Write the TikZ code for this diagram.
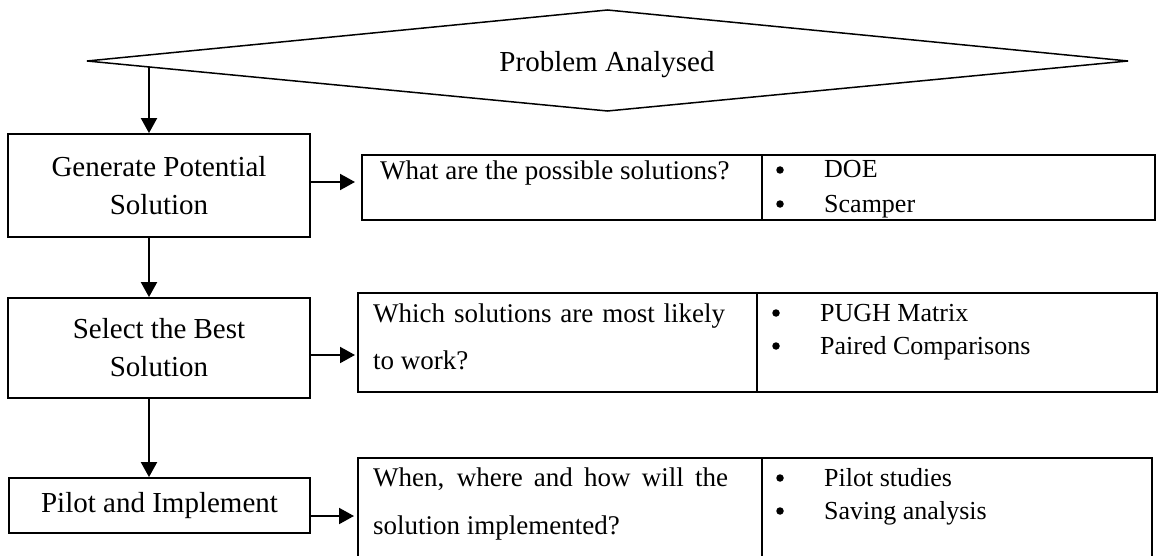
\documentclass[tikz,border=0pt]{standalone}
\usepackage{fontspec}
\setmainfont{Liberation Serif}
\usetikzlibrary{arrows.meta}
\begin{document}
\begin{tikzpicture}[x=1pt,y=-1pt,
  boxnode/.style={draw, line width=1.8pt, inner sep=0pt, align=center, font=\fontsize{29}{38}\selectfont},
  cellnode/.style={draw, line width=2.5pt, inner sep=0pt, outer sep=0pt, anchor=north west},
  qtext/.style={anchor=base west, inner sep=0pt, font=\fontsize{27}{32}\selectfont},
  ltext/.style={anchor=base west, inner sep=0pt, font=\fontsize{26}{32}\selectfont},
  bul/.style={circle, fill=black, inner sep=0pt, minimum size=7.5pt},
  arr/.style={line width=2pt, -{Triangle[length=15pt,width=16pt]}},
]
\useasboundingbox (0,0) rectangle (1161,556);
% decision shape
\draw[line width=1.5pt] (87,61) -- (607.5,10) -- (1128,61) -- (607.5,111) -- cycle;
\node[font=\fontsize{29}{34}\selectfont, inner sep=0pt, anchor=base] (prob) at (607,72) {Problem Analysed};
\coordinate (d1) at (149,67);
% boxes
\node[boxnode, minimum width=302pt, minimum height=103pt] (b1) at (159,185.5) {Generate Potential\\Solution};
\node[boxnode, minimum width=302pt, minimum height=100pt] (b2) at (159,348) {Select the Best\\Solution};
\node[boxnode, minimum width=301pt, minimum height=55pt] (b3) at (159.5,505.5) {Pilot and Implement};
% tables
\node[cellnode, minimum width=400pt, minimum height=65pt] (t1a) at (362,155) {};
\node[cellnode, minimum width=393pt, minimum height=65pt] (t1b) at (t1a.north east) {};
\node[cellnode, minimum width=399pt, minimum height=99pt] (t2a) at (358,293) {};
\node[cellnode, minimum width=400pt, minimum height=99pt] (t2b) at (t2a.north east) {};
\node[cellnode, minimum width=404pt, minimum height=101pt] (t3a) at (358,458) {};
\node[cellnode, minimum width=390pt, minimum height=101pt] (t3b) at (t3a.north east) {};
% table texts
\node[qtext] (q1) at (380,179) {What are the possible solutions?};
\node[bul] (k1a) at (780,170) {};
\node[ltext] (l1a) at (824,178) {DOE};
\node[bul] (k1b) at (780,204) {};
\node[ltext] (l1b) at (824,212) {Scamper};
\node[qtext] (q2a) at (373,322) {\makebox[352pt][s]{Which solutions are most likely}};
\node[qtext] (q2b) at (373,369) {to work?};
\node[bul] (k2a) at (776,313) {};
\node[ltext] (l2a) at (820,321) {PUGH Matrix};
\node[bul] (k2b) at (776,346) {};
\node[ltext] (l2b) at (820,354) {Paired Comparisons};
\node[qtext] (q3a) at (373,486) {\makebox[355pt][s]{When, where and how will the}};
\node[qtext] (q3b) at (373,534) {solution implemented?};
\node[bul] (k3a) at (780,478) {};
\node[ltext] (l3a) at (824,486) {Pilot studies};
\node[bul] (k3b) at (780,511) {};
\node[ltext] (l3b) at (824,519) {Saving analysis};
% connectors
\draw[arr] (d1) -- (d1 |- b1.north);
\draw[arr] (b1.south -| d1) -- (b2.north -| d1);
\draw[arr] (b2.south -| d1) -- (b3.north -| d1);
\coordinate (e1) at (355,182);
\coordinate (e2) at (355,355);
\coordinate (e3) at (354,516);
\draw[arr] (b1.east |- e1) -- (e1);
\draw[arr] (b2.east |- e2) -- (e2);
\draw[arr] (b3.east |- e3) -- (e3);
\end{tikzpicture}
\end{document}
